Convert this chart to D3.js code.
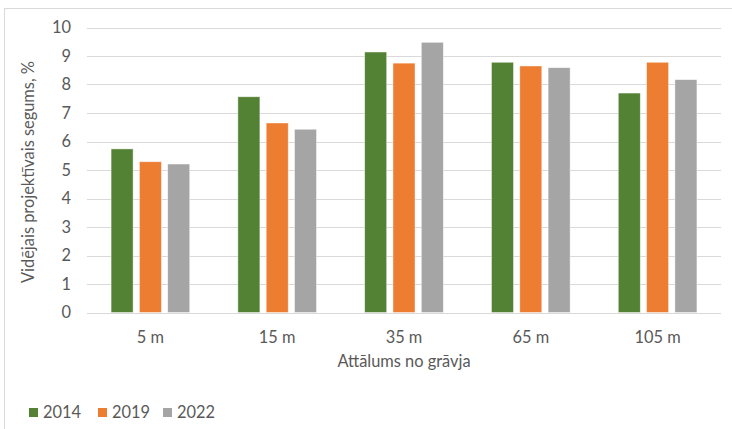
<!DOCTYPE html>
<html>
<head>
<meta charset="utf-8">
<script src="https://cdn.jsdelivr.net/npm/d3@7"></script>
<style>
  html, body { margin: 0; padding: 0; background: #fff; }
  svg { display: block; }
  text { font-family: Lato, "Open Sans", sans-serif; fill: #595959; }
</style>
</head>
<body>
<svg id="chart" width="732" height="429"></svg>
<script>
// Distance categories and average projective cover per survey year
const categories = ["5 m", "15 m", "35 m", "65 m", "105 m"];
const years = ["2014", "2019", "2022"];
const values2014 = [5.74, 7.57, 9.14, 8.78, 7.70];
const values2019 = [5.29, 6.65, 8.75, 8.65, 8.78];
const values2022 = [5.21, 6.43, 9.48, 8.59, 8.17];
const yTicks = [0, 1, 2, 3, 4, 5, 6, 7, 8, 9, 10];
const colors = ["#548235", "#ED7D31", "#A5A5A5"];

const seriesValues = [values2014, values2019, values2022];
const fontSize = "16.4px";

const svg = d3.select("#chart");

// Outer chart frame
svg.append("rect")
  .attr("x", 4.5).attr("y", 8.5)
  .attr("width", 740).attr("height", 440)
  .attr("fill", "none").attr("stroke", "#d9d9d9").attr("stroke-width", 1);

const plot = { left: 87, right: 721, top: 27.5, bottom: 312.5 };

const x0 = d3.scaleBand().domain(categories).range([plot.left, plot.right]).padding(0);
const x1 = d3.scaleBand().domain(years).range([0, x0.bandwidth()])
  .paddingInner(0.222).paddingOuter(0.85);
const y = d3.scaleLinear().domain([0, 10]).range([plot.bottom, plot.top]);

// Horizontal gridlines
svg.append("g")
  .selectAll("line")
  .data(yTicks)
  .join("line")
  .attr("x1", plot.left).attr("x2", plot.right)
  .attr("y1", d => Math.round(y(d)) + 0.5).attr("y2", d => Math.round(y(d)) + 0.5)
  .attr("stroke", "#d9d9d9").attr("stroke-width", 1.2);

// Y axis tick labels
svg.append("g")
  .selectAll("text")
  .data(yTicks)
  .join("text")
  .attr("x", 71)
  .attr("y", d => y(d))
  .attr("dy", "0.36em")
  .attr("text-anchor", "end")
  .style("font-size", fontSize)
  .text(d => d);

// Bars
const groups = svg.append("g")
  .selectAll("g")
  .data(categories)
  .join("g")
  .attr("transform", d => `translate(${x0(d)},0)`);

groups.selectAll("rect")
  .data((c, i) => years.map((yr, s) => ({ year: yr, s, v: seriesValues[s][i] })))
  .join("rect")
  .attr("x", d => x1(d.year))
  .attr("width", x1.bandwidth())
  .attr("y", d => y(d.v))
  .attr("height", d => y(0) - y(d.v))
  .attr("fill", d => colors[d.s])
  .attr("stroke", "#ffffff")
  .attr("stroke-opacity", 0.6)
  .attr("stroke-width", 0.75);

// X axis category labels
svg.append("g")
  .selectAll("text")
  .data(categories)
  .join("text")
  .attr("x", d => x0(d) + x0.bandwidth() / 2)
  .attr("y", 343)
  .attr("text-anchor", "middle")
  .style("font-size", fontSize)
  .text(d => d);

// Axis titles
svg.append("text")
  .attr("x", (plot.left + plot.right) / 2)
  .attr("y", 367)
  .attr("text-anchor", "middle")
  .style("font-size", fontSize)
  .text("Attālums no grāvja");

svg.append("text")
  .attr("transform", "translate(34,172) rotate(-90)")
  .attr("text-anchor", "middle")
  .style("font-size", fontSize)
  .text("Vidējais projektīvais segums, %");

// Legend
const legendX = [29, 98, 163];
const legend = svg.append("g")
  .selectAll("g")
  .data(years)
  .join("g")
  .attr("transform", (d, i) => `translate(${legendX[i]},408)`);

legend.append("rect")
  .attr("width", 9).attr("height", 9)
  .attr("fill", (d, i) => colors[i]);

legend.append("text")
  .attr("x", 14)
  .attr("y", 9.8)
  .style("font-size", fontSize)
  .text(d => d);
</script>
</body>
</html>
